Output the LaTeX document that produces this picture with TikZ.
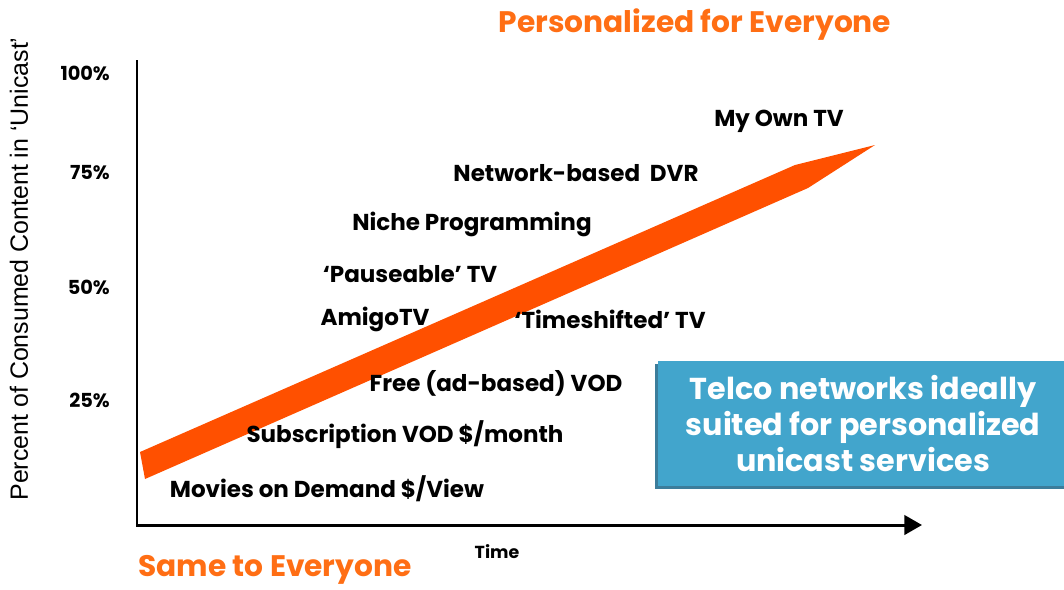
\documentclass[tikz,border=0pt]{standalone}
\usepackage{fontspec}
\setmainfont{Poppins}
\newfontfamily\axisfont{Liberation Sans}
\usetikzlibrary{arrows.meta, shadows}
\definecolor{band}{RGB}{255, 80, 0}
\definecolor{headline}{RGB}{255, 110, 20}
\definecolor{boxblue}{RGB}{66, 165, 204}
\definecolor{boxshade}{RGB}{60, 125, 155}

\begin{document}
\begin{tikzpicture}[x=0.02cm, y=-0.02cm,
  item/.style={font=\fontsize{13.1}{15}\selectfont\bfseries},
  tick/.style={font=\fontsize{11}{13}\selectfont\bfseries, anchor=east},
  headline/.style={text=headline, font=\fontsize{16.9}{19}\selectfont\bfseries}]

  \useasboundingbox (0, 0) rectangle (1064, 589);

  % axes
  \coordinate (ytop) at (137, 60);
  \coordinate (orig) at (137, 525);
  \coordinate (xend) at (922, 525);
  \draw[line width=1.7pt, -{Triangle[length=10pt, width=11pt]}] (ytop) -- (orig) -- (xend);

  \node[tick] (p100) at (116, 73) {100\%};
  \node[tick] (p75) at (116, 173) {75\%};
  \node[tick] (p50) at (116, 287) {50\%};
  \node[tick] (p25) at (116, 400) {25\%};

  \node[rotate=90, font=\axisfont\fontsize{14.2}{16}\selectfont] (ylab) at (19, 269)
    {Percent of Consumed Content in ‘Unicast’};
  \node[font=\fontsize{9.9}{11}\selectfont\bfseries] (time) at (497, 552) {Time};

  \node[headline] (top) at (695, 25) {Personalized for Everyone};
  \node[headline] (bottom) at (275, 570) {Same to Everyone};

  % trend band
  \fill[band] (140, 452) -- (795, 165) -- (875, 145) -- (808, 188) -- (145, 479) -- cycle;

  \node[item] (myown) at (779, 121) {My Own TV};
  \node[item] (ndvr) at (576, 173) {Network-based\ \ DVR};
  \node[item] (niche) at (472, 224) {Niche Programming};
  \node[item] (pause) at (410, 274) {‘Pauseable’ TV};
  \node[item] (amigo) at (375, 319) {AmigoTV};
  \node[item] (shift) at (610, 319) {‘Timeshifted’ TV};
  \node[item] (free) at (496, 383) {Free (ad-based) VOD};
  \node[item] (svod) at (405, 435) {Subscription VOD \$/month};
  \node[item] (mod) at (327, 489) {Movies on Demand \$/View};

  \node[fill=boxblue, text=white, minimum width=8.2cm, minimum height=2.5cm,
    align=center, font=\fontsize{17.2}{20.3}\selectfont\bfseries,
    drop shadow={shadow xshift=-0.06cm, shadow yshift=-0.06cm, fill=boxshade, opacity=1}]
    (telco) at (863, 423.5) {Telco networks ideally\\suited for personalized\\unicast services};

\end{tikzpicture}
\end{document}
